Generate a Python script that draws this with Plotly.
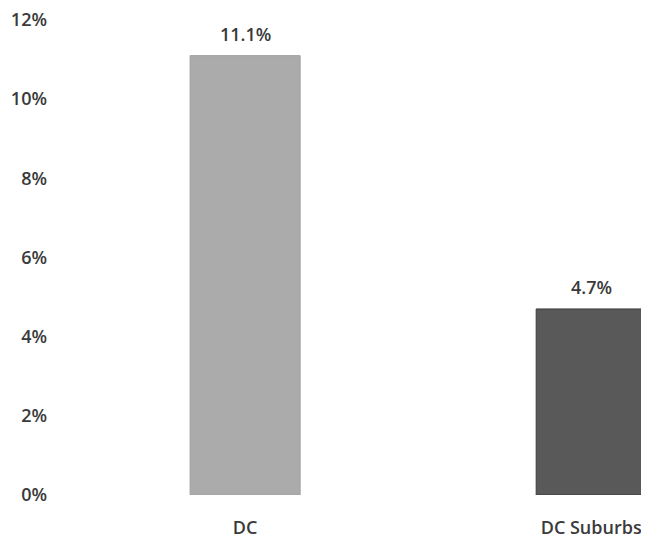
import plotly.graph_objects as go

categories = ["DC", "DC Suburbs"]
values = [11.1, 4.7]
bar_colors = ["#ababab", "#595959"]
line_colors = ["#a0a0a0", "#3a3a3a"]
tick_vals = [0, 2, 4, 6, 8, 10, 12]
tick_text = ["0%", "2%", "4%", "6%", "8%", "10%", "12%"]

font_family = "Open Sans"
text_color = "#3a3a3a"
fnt = dict(family=font_family, size=18, color=text_color, weight=600)

fig = go.Figure()
fig.add_trace(go.Bar(
    x=categories,
    y=values,
    width=0.318,
    marker=dict(color=bar_colors, line=dict(color=line_colors, width=1)),
    hoverinfo="skip",
))

for c, v in zip(categories, values):
    fig.add_annotation(x=c, y=v, text=f"{v:.1f}%", showarrow=False,
                       yshift=22, font=fnt)

fig.update_layout(
    width=641, height=533,
    margin=dict(l=44, r=0, t=12, b=46),
    plot_bgcolor="white", paper_bgcolor="white",
    showlegend=False,
    font=fnt,
    xaxis=dict(range=[-0.558, 1.167], showline=False, showgrid=False, zeroline=False,
               ticks="", ticklabelstandoff=20, tickfont=fnt, ticklabeloverflow="allow"),
    yaxis=dict(range=[0, 12], tickvals=tick_vals, ticktext=tick_text,
               showline=False, showgrid=False, zeroline=False, ticks="",
               ticklabelstandoff=4, tickfont=fnt, ticklabeloverflow="allow"),
)

fig.write_html("out.html")
